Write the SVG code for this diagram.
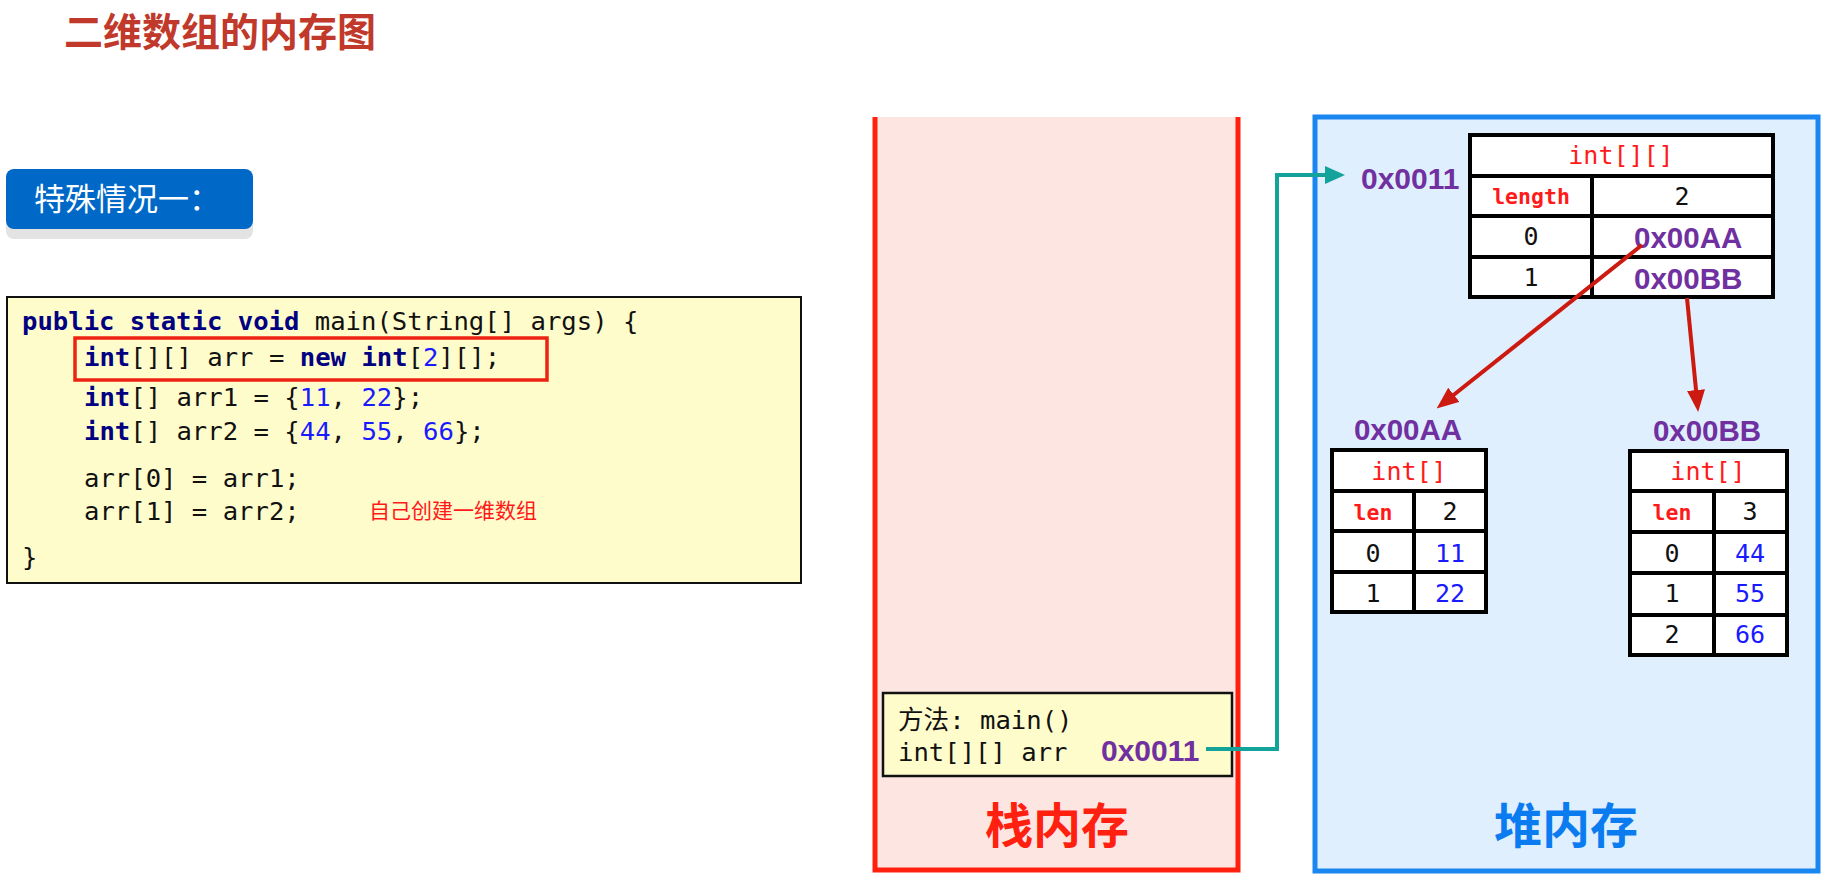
<svg xmlns="http://www.w3.org/2000/svg" width="1830" height="888" viewBox="0 0 1830 888">
<defs>
<style>
.cjk{font-family:"Noto Sans CJK SC","Noto Sans",sans-serif}
.mono{font-family:"DejaVu Sans Mono","Liberation Mono","Noto Sans CJK SC",monospace;font-size:25.6px;fill:#111}
.kw{font-weight:bold;fill:#000080}
.num{fill:#1a1aff}
.addr{font-family:"Liberation Sans",Arial,sans-serif;font-weight:bold;fill:#7030a0}
.cell{fill:#fff;stroke:#000;stroke-width:4}
.tmono{font-family:"DejaVu Sans Mono","Liberation Mono",monospace;font-size:25px;fill:#111;text-anchor:middle}
.tred{fill:#ff1a1a}
.tlen{font-weight:bold;fill:#ff1a1a;font-size:21.5px}
.tblue{fill:#1a1aff}
.redarrow{stroke:#cc1a10;stroke-width:4;fill:none;marker-end:url(#redHead)}
</style>
<marker id="redHead" markerUnits="userSpaceOnUse" markerWidth="22" markerHeight="18" viewBox="0 0 22 18" refX="10" refY="9" orient="auto">
<path d="M0,0 L22,9 L0,18 z" fill="#cc1a10"/>
</marker>
<marker id="tealHead" markerUnits="userSpaceOnUse" markerWidth="20" markerHeight="18" viewBox="0 0 20 18" refX="10" refY="9" orient="auto">
<path d="M0,0 L20,9 L0,18 z" fill="#13a39a"/>
</marker>
</defs>
<rect width="1830" height="888" fill="#fff"/>

<g id="title">
<text x="64" y="46" class="cjk" font-size="39" font-weight="bold" fill="#c0392b">二维数组的内存图</text>
</g>

<g id="case-button">
<rect x="6" y="179" width="247" height="60" rx="8" fill="#e3e3e3"/>
<rect x="6" y="169" width="247" height="60" rx="8" fill="#0069c8"/>
<text x="34" y="210" class="cjk" font-size="31" fill="#fff">特殊情况一：</text>
</g>

<g id="code-box">
<rect x="7" y="297" width="794" height="286" fill="#fffccc" stroke="#111" stroke-width="2"/>
<text class="mono" xml:space="preserve"><tspan x="22" y="330"><tspan class="kw">public static void</tspan> main(String[] args) {</tspan><tspan x="84" y="366"><tspan class="kw">int</tspan>[][] arr = <tspan class="kw">new</tspan> <tspan class="kw">int</tspan>[<tspan class="num">2</tspan>][];</tspan><tspan x="84" y="406"><tspan class="kw">int</tspan>[] arr1 = {<tspan class="num">11</tspan>, <tspan class="num">22</tspan>};</tspan><tspan x="84" y="440"><tspan class="kw">int</tspan>[] arr2 = {<tspan class="num">44</tspan>, <tspan class="num">55</tspan>, <tspan class="num">66</tspan>};</tspan><tspan x="84" y="487">arr[0] = arr1;</tspan><tspan x="84" y="520">arr[1] = arr2;</tspan><tspan x="22" y="566">}</tspan></text>
<rect x="75" y="338" width="472" height="42" fill="none" stroke="#ee2211" stroke-width="3.5"/>
<text x="369" y="518" class="cjk" font-size="21" fill="#ff1a1a">自己创建一维数组</text>
</g>

<g id="stack">
<rect x="875" y="117" width="363" height="753" fill="#fde6e2"/>
<path d="M875,117 V870 H1238 V117" fill="none" stroke="#ff2010" stroke-width="5"/>
<text x="1057" y="843" class="cjk" font-size="48" font-weight="bold" fill="#ff2010" text-anchor="middle">栈内存</text>
</g>

<g id="heap">
<rect x="1315" y="117" width="503" height="754" fill="#e0effd" stroke="#1a86f0" stroke-width="5"/>
<text x="1566" y="843" class="cjk" font-size="48" font-weight="bold" fill="#0a7cf0" text-anchor="middle">堆内存</text>
</g>

<g id="main-frame">
<rect x="883" y="693" width="349" height="83" fill="#fffccc" stroke="#111" stroke-width="2.5"/>
<text class="mono" xml:space="preserve"><tspan x="898" y="729">方法: main()</tspan><tspan x="898" y="761">int[][] arr</tspan></text>
<text x="1101" y="761" class="addr" font-size="30">0x0011</text>
</g>

<g id="array-2d">
<text x="1361" y="189" class="addr" font-size="30">0x0011</text>
<rect class="cell" x="1470" y="135" width="303" height="41"/>
<rect class="cell" x="1470" y="176" width="122" height="40"/>
<rect class="cell" x="1592" y="176" width="181" height="40"/>
<rect class="cell" x="1470" y="216" width="122" height="41"/>
<rect class="cell" x="1592" y="216" width="181" height="41"/>
<rect class="cell" x="1470" y="257" width="122" height="40"/>
<rect class="cell" x="1592" y="257" width="181" height="40"/>
<text class="tmono tred" x="1621" y="164">int[][]</text>
<text class="tmono tlen" x="1531" y="204">length</text>
<text class="tmono" x="1682" y="205">2</text>
<text class="tmono" x="1531" y="245">0</text>
<text class="tmono" x="1531" y="286">1</text>
<text class="addr" x="1634" y="248" font-size="29.5">0x00AA</text>
<text class="addr" x="1634" y="289" font-size="29.5">0x00BB</text>
</g>

<g id="array-aa">
<text x="1408" y="440" class="addr" font-size="29.5" text-anchor="middle">0x00AA</text>
<rect class="cell" x="1332" y="450" width="154" height="41"/>
<rect class="cell" x="1332" y="491" width="82" height="40"/>
<rect class="cell" x="1414" y="491" width="72" height="40"/>
<rect class="cell" x="1332" y="531" width="82" height="41"/>
<rect class="cell" x="1414" y="531" width="72" height="41"/>
<rect class="cell" x="1332" y="572" width="82" height="40"/>
<rect class="cell" x="1414" y="572" width="72" height="40"/>
<text class="tmono tred" x="1409" y="480">int[]</text>
<text class="tmono tlen" x="1373" y="520">len</text>
<text class="tmono" x="1450" y="520">2</text>
<text class="tmono" x="1373" y="562">0</text>
<text class="tmono tblue" x="1450" y="562">11</text>
<text class="tmono" x="1373" y="602">1</text>
<text class="tmono tblue" x="1450" y="602">22</text>
</g>

<g id="array-bb">
<text x="1707" y="441" class="addr" font-size="29.5" text-anchor="middle">0x00BB</text>
<rect class="cell" x="1630" y="451" width="157" height="40"/>
<rect class="cell" x="1630" y="491" width="84" height="41"/>
<rect class="cell" x="1714" y="491" width="73" height="41"/>
<rect class="cell" x="1630" y="532" width="84" height="41"/>
<rect class="cell" x="1714" y="532" width="73" height="41"/>
<rect class="cell" x="1630" y="573" width="84" height="42"/>
<rect class="cell" x="1714" y="573" width="73" height="42"/>
<rect class="cell" x="1630" y="615" width="84" height="40"/>
<rect class="cell" x="1714" y="615" width="73" height="40"/>
<text class="tmono tred" x="1708" y="480">int[]</text>
<text class="tmono tlen" x="1672" y="520">len</text>
<text class="tmono" x="1750" y="520">3</text>
<text class="tmono" x="1672" y="562">0</text>
<text class="tmono tblue" x="1750" y="562">44</text>
<text class="tmono" x="1672" y="602">1</text>
<text class="tmono tblue" x="1750" y="602">55</text>
<text class="tmono" x="1672" y="643">2</text>
<text class="tmono tblue" x="1750" y="643">66</text>
</g>

<g id="connectors">
<path d="M1206,749 H1277 V175 H1335" fill="none" stroke="#13a39a" stroke-width="4" marker-end="url(#tealHead)"/>
<path class="redarrow" d="M1642,245 L1446,401"/>
<path class="redarrow" d="M1687,298 L1697,400"/>
</g>
</svg>
